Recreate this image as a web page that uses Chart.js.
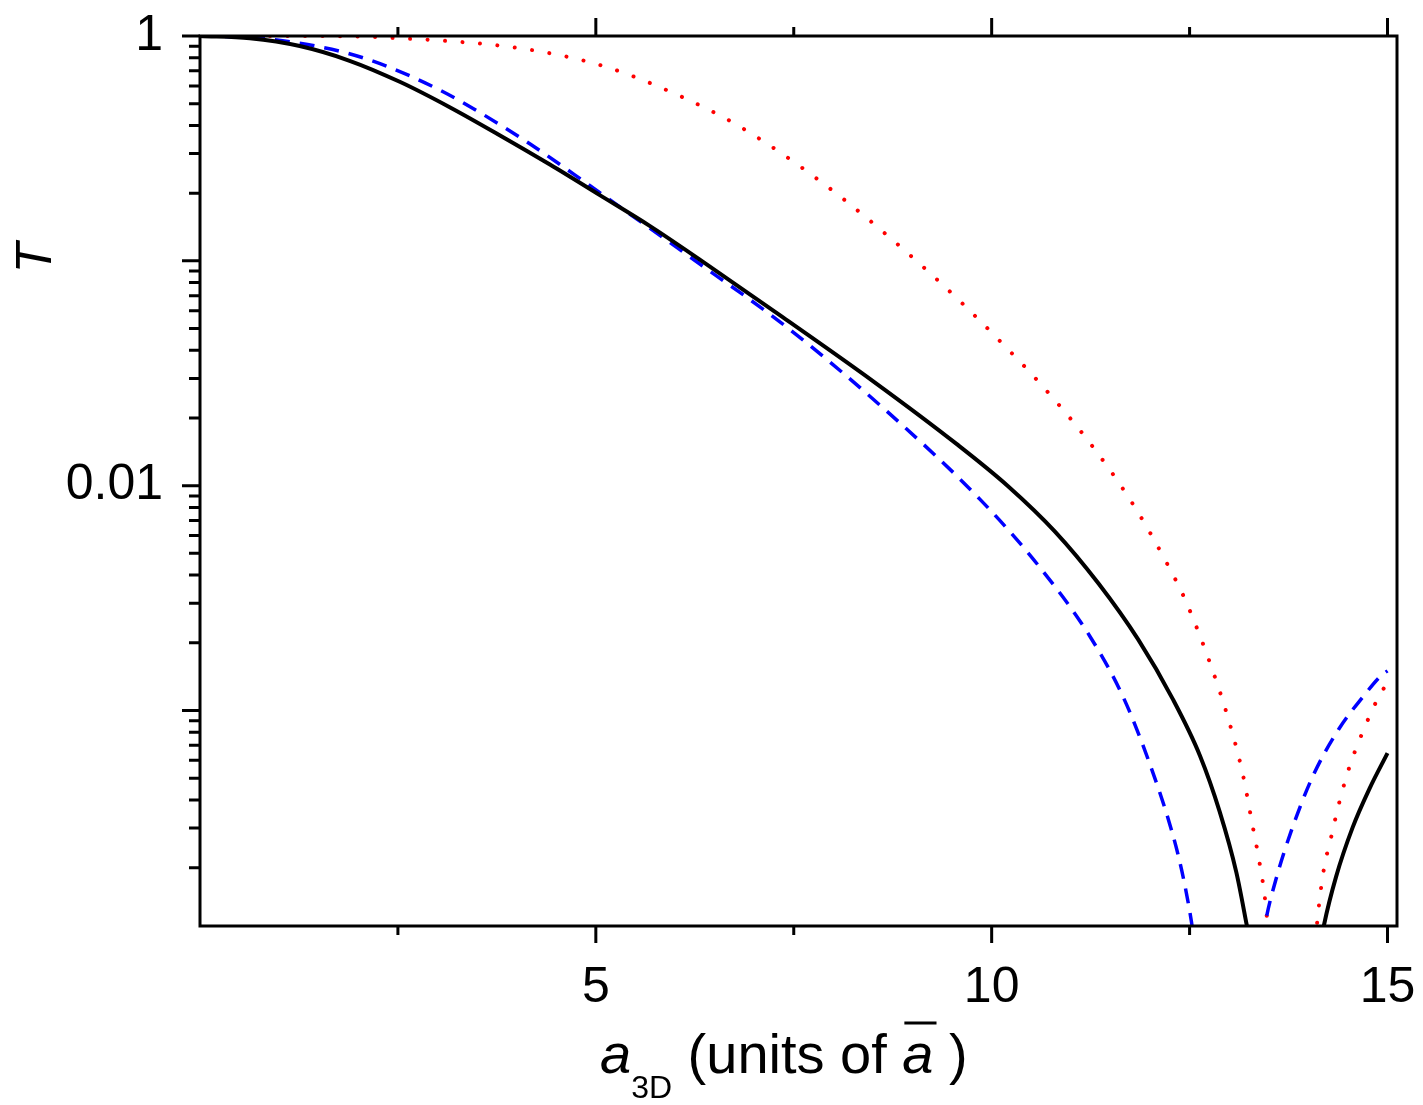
<!DOCTYPE html>
<html>
<head>
<meta charset="utf-8">
<script src="https://cdn.jsdelivr.net/npm/chart.js@4.4.1/dist/chart.umd.min.js"></script>
<style>
  html, body { margin: 0; padding: 0; background: #fff; }
</style>
</head>
<body>
<canvas id="chart" width="1423" height="1105"></canvas>
<script>
// transmission T vs a3D (units of a-bar)
const solidX = [0, 0.63, 1.26, 1.89, 2.53, 3.16, 3.79, 4.42, 5.05, 5.68, 6.3, 7.36, 8.5, 9.56, 10.2, 10.8, 11.35, 11.85, 12.29, 12.63, 12.88, 13.09, 13.22, 13.3,
                13.7,
                14.15, 14.2, 14.35, 14.56, 14.77, 15.0];
const solidT = [1, 0.977, 0.902, 0.776, 0.624, 0.481, 0.361, 0.268, 0.196, 0.143, 0.102, 0.0562, 0.0292, 0.0153, 0.0100, 0.00625, 0.00367, 0.00207, 0.00112, 0.000631, 0.000355, 0.000191, 0.000112, 0.000079,
                null,
                0.000089, 0.000112, 0.000182, 0.000302, 0.000447, 0.000646];

const dashedX = [0, 0.42, 0.84, 1.26, 1.85, 2.36, 3.03, 3.58, 4.17, 4.72, 5.34, 6.19, 7.45, 8.71, 9.85, 10.6, 11.24, 11.66, 12.0, 12.27, 12.4, 12.52, 12.56,
                 13.0,
                 13.42, 13.47, 13.6, 13.79, 14.06, 14.39, 14.69, 14.92, 15.0];
const dashedT = [1, 0.993, 0.970, 0.929, 0.841, 0.733, 0.575, 0.447, 0.331, 0.243, 0.170, 0.104, 0.0495, 0.0209, 0.00871, 0.00437, 0.00214, 0.00115, 0.000575, 0.000295, 0.000195, 0.000117, 0.000093,
                 null,
                 0.000095, 0.00012, 0.000182, 0.000295, 0.000513, 0.000832, 0.00115, 0.00143, 0.00150];

const dottedX = [0, 1, 2, 2.53, 3.2, 3.83, 4.42, 5.05, 5.64, 6.6, 7.1, 7.66, 8.18, 8.69, 9.19, 9.66, 10.14, 10.6, 11.24, 11.78, 12.25, 12.46, 12.79, 13.0, 13.17, 13.3, 13.38, 13.45, 13.51,
                 13.8,
                 14.09, 14.13, 14.19, 14.29, 14.39, 14.52, 14.67, 14.85, 14.95, 15.0];
const dottedT = [1, 1, 0.995, 0.977, 0.946, 0.902, 0.838, 0.743, 0.627, 0.437, 0.343, 0.251, 0.182, 0.129, 0.0902, 0.0631, 0.0427, 0.0288, 0.0155, 0.00832, 0.00427, 0.00302, 0.00151, 0.000891, 0.000525, 0.000302, 0.000214, 0.000148, 0.000089,
                 null,
                 0.000095, 0.000132, 0.000191, 0.000275, 0.000389, 0.000562, 0.000776, 0.00108, 0.00125, 0.00130];

const xMajorTicks = [5, 10, 15];
const xMinorTicks = [2.5, 7.5, 12.5];
const yMajorTicks = [0.001, 0.01, 0.1, 1];
const yLabelled = [1, 0.01];
const yLabelText = ['1', '0.01'];

const FONT = "'Liberation Sans', Arial, Helvetica, sans-serif";

function toPoints(xs, ts) {
    return xs.map((x, i) => ({ x: x, y: ts[i] }));
}

// frame + outward tick marks (bottom/top mirrored, left only)
const framePlugin = {
    id: 'frame',
    afterDraw(chart) {
        const ctx = chart.ctx;
        const a = chart.chartArea;
        const xs = chart.scales.x;
        const ys = chart.scales.y;
        ctx.save();
        ctx.strokeStyle = '#000';
        ctx.lineWidth = 3;
        ctx.lineCap = 'butt';
        ctx.strokeRect(a.left, a.top, a.right - a.left, a.bottom - a.top);

        ctx.beginPath();
        xMajorTicks.forEach(v => {
            const px = xs.getPixelForValue(v);
            ctx.moveTo(px, a.bottom); ctx.lineTo(px, a.bottom + 17);
            ctx.moveTo(px, a.top); ctx.lineTo(px, a.top - 18);
        });
        xMinorTicks.forEach(v => {
            const px = xs.getPixelForValue(v);
            ctx.moveTo(px, a.bottom); ctx.lineTo(px, a.bottom + 9);
            ctx.moveTo(px, a.top); ctx.lineTo(px, a.top - 9);
        });
        yMajorTicks.forEach(v => {
            const py = ys.getPixelForValue(v);
            ctx.moveTo(a.left, py); ctx.lineTo(a.left - 18, py);
        });
        // minor log ticks 2..9 of each decade
        yMajorTicks.forEach(d => {
            for (let m = 2; m <= 9; m++) {
                const v = d * m / 10;
                if (v <= ys.min || v >= ys.max) continue;
                const py = ys.getPixelForValue(v);
                ctx.moveTo(a.left, py); ctx.lineTo(a.left - 11, py);
            }
        });
        ctx.stroke();

        // x axis title: a_3D (units of a-bar )
        ctx.fillStyle = '#000';
        ctx.textBaseline = 'alphabetic';
        ctx.textAlign = 'left';
        const base = 1073;
        const parts = [
            { t: 'a', f: 'italic 56px ' + FONT, dy: 0 },
            { t: '3D', f: '32px ' + FONT, dy: 25 },
            { t: ' (units of ', f: '56px ' + FONT, dy: 0 },
            { t: 'a', f: 'italic 56px ' + FONT, dy: 0, bar: true },
            { t: ' )', f: '56px ' + FONT, dy: 0 }
        ];
        let cx = 600;
        parts.forEach(p => {
            ctx.font = p.f;
            const w = ctx.measureText(p.t).width;
            ctx.fillText(p.t, cx, base + p.dy);
            if (p.bar) {
                ctx.beginPath();
                ctx.lineWidth = 3;
                ctx.moveTo(cx + 2, base - 50);
                ctx.lineTo(cx + w + 3, base - 50);
                ctx.stroke();
            }
            cx += w;
        });

        // y axis title: T
        ctx.save();
        ctx.translate(37, 258);
        ctx.rotate(-Math.PI / 2);
        ctx.font = 'italic 50px ' + FONT;
        ctx.textAlign = 'center';
        ctx.textBaseline = 'middle';
        ctx.fillText('T', 0, 0);
        ctx.restore();
        ctx.restore();
    }
};

const ctx = document.getElementById('chart').getContext('2d');
new Chart(ctx, {
    type: 'line',
    data: {
        datasets: [
            {
                label: 'solid',
                data: toPoints(solidX, solidT),
                borderColor: '#000000',
                borderWidth: 4,
                pointRadius: 0,
                cubicInterpolationMode: 'monotone',
                fill: false
            },
            {
                label: 'dashed',
                data: toPoints(dashedX, dashedT),
                borderColor: '#0000ff',
                borderWidth: 3.5,
                borderDash: [15, 10],
                pointRadius: 0,
                cubicInterpolationMode: 'monotone',
                fill: false
            },
            {
                label: 'dotted',
                data: toPoints(dottedX, dottedT),
                borderColor: '#ff0000',
                borderWidth: 4,
                borderDash: [0.01, 17.5],
                borderCapStyle: 'round',
                pointRadius: 0,
                cubicInterpolationMode: 'monotone',
                fill: false
            }
        ]
    },
    options: {
        responsive: false,
        animation: false,
        devicePixelRatio: 1,
        layout: { padding: { top: 36, right: 26, left: 0, bottom: 0 } },
        plugins: {
            legend: { display: false },
            tooltip: { enabled: false }
        },
        scales: {
            x: {
                type: 'linear',
                min: 0,
                max: 15.12,
                grid: { display: false, drawTicks: false },
                border: { display: false },
                afterBuildTicks: (s) => { s.ticks = xMajorTicks.map(v => ({ value: v })); },
                afterFit: (s) => { s.height = 179; s.paddingLeft = 0; s.paddingRight = 0; },
                ticks: {
                    autoSkip: false,
                    maxRotation: 0,
                    padding: 32,
                    color: '#000',
                    font: { family: FONT, size: 50 },
                    callback: (v) => String(v)
                }
            },
            y: {
                type: 'logarithmic',
                min: 1.1e-4,
                max: 1,
                grid: { display: false, drawTicks: false },
                border: { display: false },
                afterBuildTicks: (s) => { s.ticks = yMajorTicks.map(v => ({ value: v })); },
                afterFit: (s) => { s.width = 200; s.paddingTop = 0; s.paddingBottom = 0; },
                ticks: {
                    autoSkip: false,
                    padding: 37,
                    color: '#000',
                    font: { family: FONT, size: 50 },
                    callback: (v) => {
                        const i = yLabelled.indexOf(v);
                        return i >= 0 ? yLabelText[i] : '';
                    }
                }
            }
        }
    },
    plugins: [framePlugin]
});
</script>
</body>
</html>
